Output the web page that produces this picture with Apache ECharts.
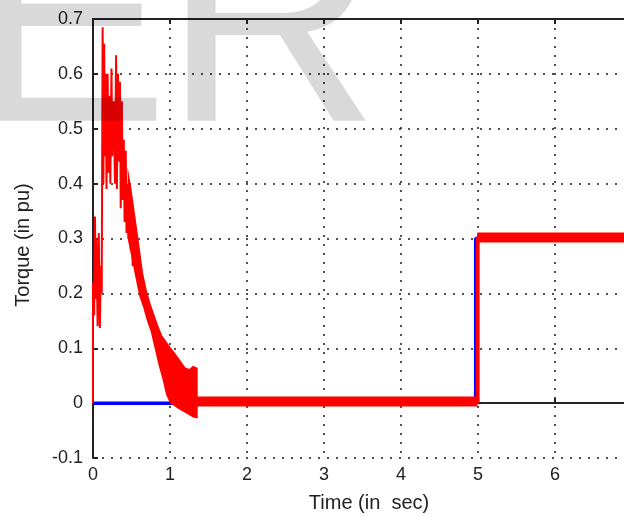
<!DOCTYPE html>
<html>
<head>
<meta charset="utf-8">
<script src="https://cdn.jsdelivr.net/npm/echarts@6/dist/echarts.min.js"></script>
<style>
  html, body { margin: 0; padding: 0; background: #fff; overflow: hidden; }
  #chart { width: 640px; height: 517px; }
</style>
</head>
<body>
<div id="chart"></div>
<script>
// reference torque (blue)
const blueT = [0, 4.97, 4.97, 7];
const blueV = [0, 0, 0.3, 0.3];

// red: spiky start-up part
const spikeT = [0, 0, 0.015, 0.026, 0.035, 0.045, 0.06, 0.075, 0.09, 0.1, 0.113, 0.125, 0.135, 0.145, 0.155, 0.165,
    0.175, 0.19, 0.2, 0.215, 0.225, 0.24, 0.25, 0.27, 0.285, 0.3, 0.31, 0.325, 0.335, 0.35, 0.36, 0.375, 0.385,
    0.4, 0.41, 0.425, 0.435, 0.45, 0.46, 0.48, 0.49, 0.505, 0.515, 0.53];
const spikeV = [0, 0.22, 0.16, 0.34, 0.19, 0.30, 0.14, 0.31, 0.137, 0.25, 0.2, 0.685, 0.4, 0.655, 0.45, 0.6,
    0.39, 0.6, 0.42, 0.56, 0.4, 0.61, 0.45, 0.55, 0.4, 0.634, 0.39, 0.6, 0.44, 0.585, 0.355, 0.55, 0.37,
    0.48, 0.33, 0.46, 0.31, 0.40, 0.3, 0.40, 0.28, 0.33, 0.25, 0.29];

// red: dense oscillating band (upper / lower envelope)
const bandT = [0.45, 0.5, 0.55, 0.6, 0.65, 0.7, 0.75, 0.8, 0.85, 0.9, 0.95, 1.0, 1.05, 1.1, 1.15, 1.2, 1.25, 1.3, 1.36];
const bandUpper = [0.43, 0.39, 0.34, 0.29, 0.237, 0.205, 0.18, 0.16, 0.14, 0.123, 0.113, 0.103, 0.094, 0.085, 0.075, 0.065, 0.062, 0.068, 0.064];
const bandLower = [0.30, 0.265, 0.23, 0.195, 0.175, 0.15, 0.13, 0.10, 0.07, 0.045, 0.015, 0.0, -0.005, -0.01, -0.014, -0.018, -0.022, -0.026, -0.028];

// red: steady parts and step at 5 s
const flat1T = [1.34, 4.995];
const flat1V = [0.003, 0.003];
const stepT = [4.995, 4.995];
const stepV = [0.0, 0.302];
const flat2T = [4.99, 7];
const flat2V = [0.302, 0.302];

const zip = (a, b) => a.map((v, i) => [v, b[i]]);

const chartInstance = echarts.init(document.getElementById('chart'));

const axisFont = { fontFamily: 'Liberation Sans', fontSize: 18, color: '#222' };
const dotted = { color: 'rgba(50,50,50,0.85)', width: 2, type: [2, 7] };

chartInstance.setOption({
    animation: false,
    grid: { left: 93, top: 19, bottom: 59, right: 8 },
    xAxis: [
        {
            type: 'value', min: 0, max: 7, interval: 1,
            axisLine: { lineStyle: { color: '#222', width: 2 } },
            axisTick: { inside: true, length: 5, lineStyle: { color: '#222', width: 2 } },
            axisLabel: { ...axisFont, margin: 8 },
            splitLine: { show: true, lineStyle: dotted },
        },
        {
            type: 'value', position: 'top', min: 0, max: 7, interval: 1,
            axisLine: { lineStyle: { color: '#222', width: 2 } },
            axisTick: { inside: true, length: 5, lineStyle: { color: '#222', width: 2 } },
            axisLabel: { show: false },
            splitLine: { show: false },
        },
    ],
    yAxis: {
        type: 'value', min: -0.1, max: 0.7, interval: 0.1,
        axisLine: { show: true, lineStyle: { color: '#222', width: 2 } },
        axisTick: { show: true, inside: true, length: 5, lineStyle: { color: '#222', width: 2 } },
        axisLabel: { ...axisFont, margin: 10, formatter: (v) => String(+v.toFixed(1)) },
        splitLine: { show: true, lineStyle: dotted },
    },
    series: [
        {
            type: 'line', data: zip(blueT, blueV), showSymbol: false,
            lineStyle: { color: '#0000ff', width: 3.5 }, z: 2,
        },
        {
            type: 'line', data: zip(flat1T, flat1V), showSymbol: false,
            lineStyle: { color: '#ff0000', width: 10 }, z: 3,
        },
        {
            type: 'line', data: zip(stepT, stepV), showSymbol: false,
            lineStyle: { color: '#ff0000', width: 4 }, z: 3,
        },
        {
            type: 'line', data: zip(flat2T, flat2V), showSymbol: false,
            lineStyle: { color: '#ff0000', width: 10 }, z: 3,
        },
        {
            type: 'line', data: zip(spikeT, spikeV), showSymbol: false,
            lineStyle: { color: '#ff0000', width: 2 }, z: 3,
        },
        {
            type: 'custom', data: [[bandT[0], bandLower[0]]], z: 3,
            renderItem: (params, api) => {
                const up = bandT.map((t, i) => api.coord([t, bandUpper[i]]));
                const low = bandT.map((t, i) => api.coord([t, bandLower[i]])).reverse();
                return { type: 'polygon', shape: { points: up.concat(low) }, style: { fill: '#ff0000' } };
            },
        },
    ],
    graphic: [
        {
            type: 'text', x: 369, y: 503,
            style: { text: 'Time (in  sec)', font: '20px "Liberation Sans"', fill: '#222', align: 'center', verticalAlign: 'middle' },
        },
        {
            type: 'text', x: 23, y: 245, rotation: Math.PI / 2,
            style: { text: 'Torque (in pu)', font: '20px "Liberation Sans"', fill: '#222', align: 'center', verticalAlign: 'middle' },
        },
        // watermark
        {
            type: 'text', x: -31, y: 38, z: 100,
            style: { text: 'E', font: '300px "Liberation Sans"', fill: 'rgba(0,0,0,0.15)', align: 'left', verticalAlign: 'middle' },
        },
        {
            type: 'text', x: 163, y: 38, z: 100,
            style: { text: 'R', font: '300px "Liberation Sans"', fill: 'rgba(0,0,0,0.15)', align: 'left', verticalAlign: 'middle' },
        },
    ],
});
</script>
</body>
</html>
